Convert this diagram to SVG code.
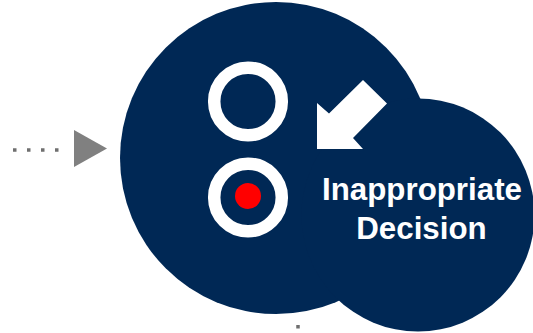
<svg xmlns="http://www.w3.org/2000/svg" width="533" height="333" viewBox="0 0 533 333">
  <style>
    .blob { fill: #002855; }
    .ring { fill: none; stroke: #ffffff; stroke-width: 12.5; }
    .dots { stroke: #6f6f6f; stroke-width: 3.5; stroke-dasharray: 3.5 10.5; fill: none; }
    .label { font-family: "Liberation Sans", Arial, sans-serif; font-weight: bold; font-size: 31.3px; fill: #ffffff; text-anchor: middle; }
  </style>

  <!-- incoming / outgoing connectors -->
  <g id="connectors">
    <line class="dots" x1="13" y1="150" x2="62" y2="150"/>
    <polygon points="74,130 107,148.5 74,167" fill="#808080"/>
    <line class="dots" x1="298" y1="325" x2="298" y2="345"/>
  </g>

  <!-- decision node: two overlapping discs -->
  <g id="decision-node">
    <circle class="blob" cx="276" cy="158" r="156"/>
    <circle class="blob" cx="418" cy="215" r="116.5"/>

    <g id="choice-open">
      <circle class="ring" cx="248" cy="101.5" r="33.8"/>
    </g>
    <g id="choice-selected">
      <circle class="ring" cx="248" cy="197.5" r="33.8"/>
      <circle cx="248" cy="196" r="13" fill="#ff0000"/>
    </g>

    <g id="pointer-arrow">
      <polygon points="317,103 329,113.5 363,80 387,103.5 353,138 363,149 317,149" fill="#ffffff"/>
    </g>

    <g id="decision-label">
      <text class="label" x="422" y="199.5">Inappropriate</text>
      <text class="label" x="421.5" y="238.5">Decision</text>
    </g>
  </g>
</svg>
